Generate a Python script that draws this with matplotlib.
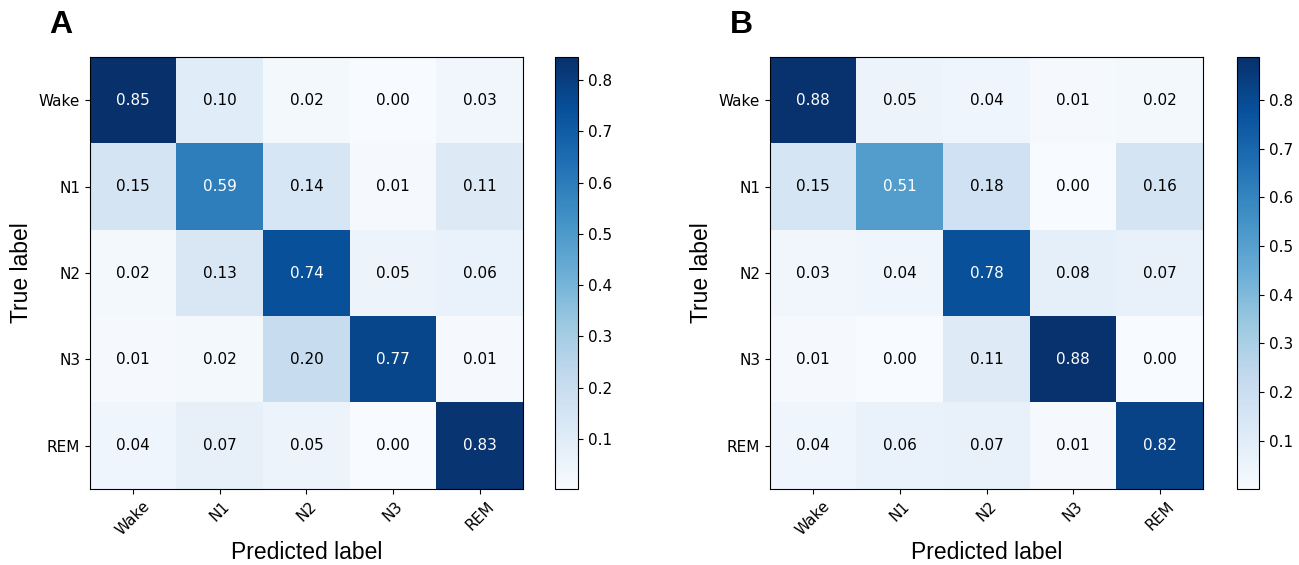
import numpy as np
import matplotlib.pyplot as plt

# Stage labels
classes = ['Wake', 'N1', 'N2', 'N3', 'REM']

# Normalized confusion matrices (rows = true, cols = predicted)
cm_a = np.array([
    [0.85, 0.10, 0.02, 0.00, 0.03],
    [0.15, 0.59, 0.14, 0.01, 0.11],
    [0.02, 0.13, 0.74, 0.05, 0.06],
    [0.01, 0.02, 0.20, 0.77, 0.01],
    [0.04, 0.07, 0.05, 0.00, 0.83],
])
cm_b = np.array([
    [0.88, 0.05, 0.04, 0.01, 0.02],
    [0.15, 0.51, 0.18, 0.00, 0.16],
    [0.03, 0.04, 0.78, 0.08, 0.07],
    [0.01, 0.00, 0.11, 0.88, 0.00],
    [0.04, 0.06, 0.07, 0.01, 0.82],
])
# colour range
range_a = (0.0025, 0.845)
range_b = (0.001, 0.888)

fig = plt.figure(figsize=(12.99, 5.65), dpi=100)


def draw_cm(ax, cax, cm, crange, letter):
    im = ax.imshow(cm, interpolation='nearest', cmap=plt.cm.Blues, aspect='auto',
                   vmin=crange[0], vmax=crange[1])
    cb = fig.colorbar(im, cax=cax)
    cb.ax.tick_params(labelsize=11)
    n = len(classes)
    ax.set_xticks(np.arange(n))
    ax.set_yticks(np.arange(n))
    ax.set_xticklabels(classes, rotation=45, fontsize=11)
    ax.set_yticklabels(classes, fontsize=11)
    thresh = cm.max() / 2.
    for i in range(n):
        for j in range(n):
            ax.text(j, i, format(cm[i, j], '.2f'), ha='center', va='center',
                    fontsize=11, color='white' if cm[i, j] > thresh else 'black')
    ax.set_ylabel('True label', fontsize=16.5, family='Liberation Sans')
    ax.set_xlabel('Predicted label', fontsize=16.5, family='Liberation Sans', labelpad=2)
    ax.text(-0.067, 1.074, letter, transform=ax.transAxes, fontsize=23,
            fontweight='bold', family='Liberation Sans', ha='center', va='center')


ax1 = fig.add_axes([0.0693, 0.1345, 0.3333, 0.7646])
cax1 = fig.add_axes([0.4273, 0.1345, 0.0177, 0.7646])
ax2 = fig.add_axes([0.5928, 0.1345, 0.3333, 0.7646])
cax2 = fig.add_axes([0.9523, 0.1345, 0.0170, 0.7646])

draw_cm(ax1, cax1, cm_a, range_a, 'A')
draw_cm(ax2, cax2, cm_b, range_b, 'B')

fig.savefig('out.png', dpi=100)
